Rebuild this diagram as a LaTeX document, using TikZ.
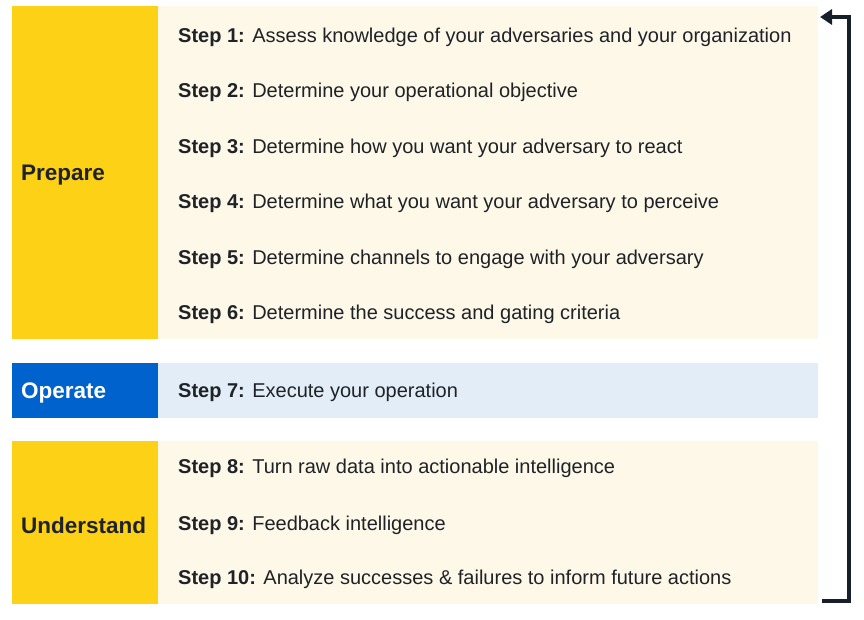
\documentclass[tikz,border=0pt]{standalone}
\usepackage{fontspec}
\setmainfont{Liberation Sans}
\usetikzlibrary{arrows.meta}
\definecolor{yel}{HTML}{FCD116}
\definecolor{cream}{HTML}{FDF8E7}
\definecolor{blu}{HTML}{0062CC}
\definecolor{lblue}{HTML}{E3EDF7}
\definecolor{ink}{HTML}{1F2328}
\definecolor{arr}{HTML}{17202A}
\begin{document}
\begin{tikzpicture}[x=1pt,y=-1pt,
  phase/.style={font=\fontsize{22.5}{26}\selectfont\bfseries, anchor=west, inner sep=0pt},
  steptxt/.style={font=\fontsize{20}{23}\selectfont, text=ink, anchor=west, inner sep=0pt},
  loop/.style={draw=arr, line width=3.5pt, -{Triangle[length=12pt,width=15pt]}}]
\useasboundingbox (0,0) rectangle (864,620);
% panels
\fill[cream] (158,6) rectangle (818,339);
\fill[yel] (12,6) rectangle (158,339);
\fill[lblue] (158,363) rectangle (818,418);
\fill[blu] (12,363) rectangle (158,418);
\fill[cream] (158,441) rectangle (818,604);
\fill[yel] (12,441) rectangle (158,604);
% phase labels
\node[phase, text=ink] (prep) at (21,175.5) {Prepare};
\node[phase, text=white] (oper) at (21,392.5) {Operate};
\node[phase, text=ink] (unds) at (21,525) {Understand};
% steps
\node[steptxt] (s1) at (178,37) {\textbf{Step 1:} Assess knowledge of your adversaries and your organization};
\node[steptxt] (s2) at (178,92) {\textbf{Step 2:} Determine your operational objective};
\node[steptxt] (s3) at (178,148) {\textbf{Step 3:} Determine how you want your adversary to react};
\node[steptxt] (s4) at (178,203) {\textbf{Step 4:} Determine what you want your adversary to perceive};
\node[steptxt] (s5) at (178,259) {\textbf{Step 5:} Determine channels to engage with your adversary};
\node[steptxt] (s6) at (178,314) {\textbf{Step 6:} Determine the success and gating criteria};
\node[steptxt] (s7) at (178,392) {\textbf{Step 7:} Execute your operation};
\node[steptxt] (s8) at (178,468) {\textbf{Step 8:} Turn raw data into actionable intelligence};
\node[steptxt] (s9) at (178,525) {\textbf{Step 9:} Feedback intelligence};
\node[steptxt] (s10) at (178,579) {\textbf{Step 10:} Analyze successes \& failures to inform future actions};
% loop arrow
\coordinate (lb) at (822,601);
\coordinate (lt) at (820,17);
\draw[loop] (lb) -- (849,601) -- (849,17) -- (lt);
\end{tikzpicture}
\end{document}
